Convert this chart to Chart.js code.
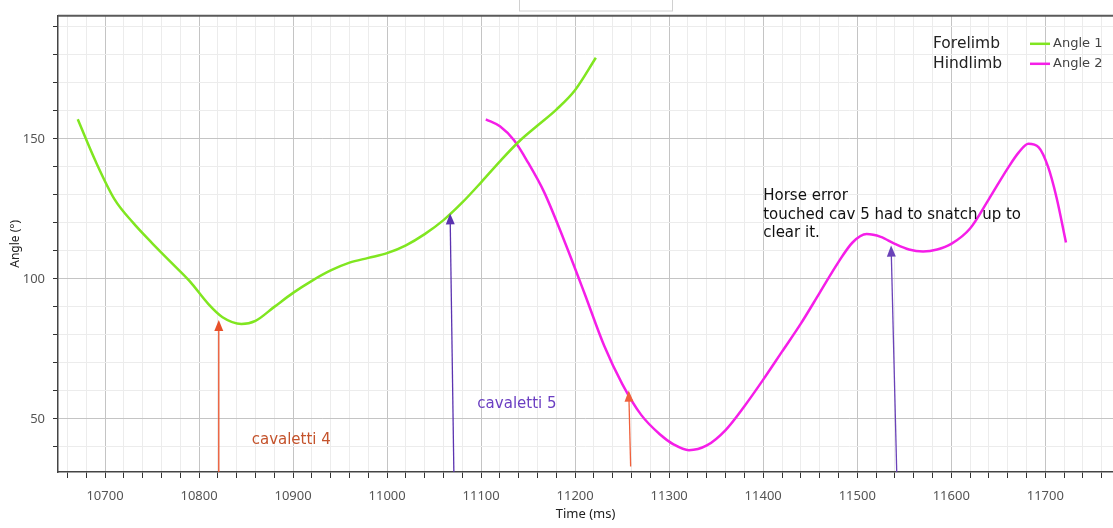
<!DOCTYPE html>
<html>
<head>
  <script src="https://cdn.jsdelivr.net/npm/chart.js"></script>
  <style>
    body { margin: 0; background: #fff; }
    #wrap { width: 1113px; height: 528px; }
  </style>
</head>
<body>
  <div id="wrap"><canvas id="angleChart"></canvas></div>

  <script>
    // Forelimb angle trace (Angle 1)
    var angle1Time  = [10671, 10690, 10710, 10730, 10750, 10770, 10790, 10810, 10825, 10845, 10860, 10880, 10900, 10920, 10940, 10960, 10980, 11000, 11020, 11040, 11060, 11080, 11100, 11120, 11140, 11160, 11180, 11200, 11222];
    var angle1Value = [157, 142, 128.5, 120, 112.8, 106, 99.2, 91, 86.3, 83.9, 85, 90, 95, 99.3, 103, 105.8, 107.5, 109.2, 112, 116, 121, 127.3, 134.5, 142, 149, 154.8, 160.5, 167.5, 179];

    // Hindlimb angle trace (Angle 2)
    var angle2Time  = [11105, 11120, 11135, 11150, 11167, 11188, 11210, 11231, 11250, 11270, 11290, 11305, 11321, 11340, 11360, 11380, 11400, 11420, 11440, 11460, 11480, 11495, 11510, 11525, 11540, 11555, 11570, 11585, 11600, 11620, 11640, 11660, 11672, 11682, 11693, 11703, 11712, 11722];
    var angle2Value = [157, 154.5, 149.5, 141.5, 131, 114, 94.8, 76, 62.5, 51.5, 44.5, 40.8, 38.8, 40.5, 46, 54.5, 64, 74, 84, 95, 106, 113, 116, 115, 112.5, 110.5, 109.8, 110.5, 112.5, 118, 128.5, 139.5, 145.3, 148.3, 147, 140, 129, 113];

    // Event arrows: base time, tip time, base angle, tip angle
    var arrowBaseTime  = [10821, 11071, 11259, 11542];
    var arrowTipTime   = [10821, 11067, 11257, 11536];
    var arrowBaseAngle = [31, 31, 33, 31];
    var arrowTipAngle  = [85.3, 123.4, 60.1, 111.9];
    var arrowColors    = ['#e8502a', '#5b33b0', '#f0603c', '#6a42b8'];

    // Text notes placed at (time, angle)
    var noteText  = ['cavaletti 4', 'cavaletti 5', 'Horse error', 'touched cav 5 had to snatch up to', 'clear it.'];
    var noteTime  = [10856, 11096, 11400, 11400, 11400];
    var noteAngle = [42.3, 55.2, 129.7, 122.7, 116.4];
    var noteColor = ['#c4532c', '#6b3fc2', '#111', '#111', '#111'];

    var limbNames = ['Forelimb', 'Hindlimb'];
    var seriesNames = ['Angle 1', 'Angle 2'];
    var seriesColors = ['#80e620', '#f51ee8'];

    function toPoints(t, v) {
      return t.map(function (x, i) { return { x: x, y: v[i] }; });
    }

    // arrows, notes, legend and the top frame
    var overlay = {
      id: 'overlay',
      afterDatasetsDraw: function (chart) {
        var ctx = chart.ctx, xs = chart.scales.x, ys = chart.scales.y, area = chart.chartArea;
        ctx.save();

        for (var i = 0; i < arrowBaseTime.length; i++) {
          var x0 = xs.getPixelForValue(arrowBaseTime[i]), y0 = ys.getPixelForValue(arrowBaseAngle[i]);
          var x1 = xs.getPixelForValue(arrowTipTime[i]), y1 = ys.getPixelForValue(arrowTipAngle[i]);
          var ang = Math.atan2(y1 - y0, x1 - x0);
          ctx.strokeStyle = arrowColors[i];
          ctx.fillStyle = arrowColors[i];
          ctx.lineWidth = 1.3;
          ctx.beginPath();
          ctx.moveTo(x0, y0);
          ctx.lineTo(x1 - 9 * Math.cos(ang), y1 - 9 * Math.sin(ang));
          ctx.stroke();
          ctx.beginPath();
          ctx.moveTo(x1, y1);
          ctx.lineTo(x1 - 11 * Math.cos(ang) + 4.5 * Math.sin(ang), y1 - 11 * Math.sin(ang) - 4.5 * Math.cos(ang));
          ctx.lineTo(x1 - 11 * Math.cos(ang) - 4.5 * Math.sin(ang), y1 - 11 * Math.sin(ang) + 4.5 * Math.cos(ang));
          ctx.closePath();
          ctx.fill();
        }

        ctx.font = '15px "DejaVu Sans"';
        ctx.textBaseline = 'middle';
        ctx.textAlign = 'left';
        for (var j = 0; j < noteText.length; j++) {
          ctx.fillStyle = noteColor[j];
          ctx.fillText(noteText[j], xs.getPixelForValue(noteTime[j]), ys.getPixelForValue(noteAngle[j]));
        }

        // legend in the top right corner
        var lx = area.right - 180, ly = area.top + 28;
        for (var k = 0; k < seriesNames.length; k++) {
          var yy = ly + k * 20;
          ctx.fillStyle = '#222';
          ctx.font = '15.5px "DejaVu Sans"';
          ctx.fillText(limbNames[k], lx, yy);
          ctx.strokeStyle = seriesColors[k];
          ctx.lineWidth = 2.5;
          ctx.beginPath();
          ctx.moveTo(lx + 97, yy);
          ctx.lineTo(lx + 117, yy);
          ctx.stroke();
          ctx.fillStyle = '#444';
          ctx.font = '13px "DejaVu Sans"';
          ctx.fillText(seriesNames[k], lx + 120, yy);
        }

        // top frame line and the blank tab over it
        ctx.strokeStyle = '#5a5a5a';
        ctx.lineWidth = 2;
        ctx.beginPath();
        ctx.moveTo(area.left, area.top);
        ctx.lineTo(area.right, area.top);
        ctx.stroke();
        ctx.fillStyle = '#fff';
        ctx.fillRect(519, 0, 153, 11);
        ctx.strokeStyle = '#d0d0d0';
        ctx.lineWidth = 1;
        ctx.strokeRect(519.5, -1, 153, 12);
        ctx.restore();
      }
    };

    function gridColor(ctx, major) {
      var v = ctx.tick ? ctx.tick.value : 0;
      if (Math.abs(v % major) < 1e-6) return '#c4c4c4';
      return '#ececec';
    }

    var config = {
      type: 'line',
      data: {
        datasets: [{
          label: seriesNames[0],
          data: toPoints(angle1Time, angle1Value),
          borderColor: seriesColors[0],
          borderWidth: 2.5,
          pointRadius: 0,
          cubicInterpolationMode: 'monotone',
          fill: false
        }, {
          label: seriesNames[1],
          data: toPoints(angle2Time, angle2Value),
          borderColor: seriesColors[1],
          borderWidth: 2.5,
          pointRadius: 0,
          cubicInterpolationMode: 'monotone',
          fill: false
        }]
      },
      options: {
        responsive: true,
        maintainAspectRatio: false,
        animation: false,
        layout: { padding: { top: 7, right: 0, left: 0, bottom: 0 } },
        plugins: { legend: { display: false }, tooltip: { enabled: false } },
        scales: {
          x: {
            type: 'linear',
            min: 10650,
            max: 11772,
            afterFit: function (s) { s.height = 56; s.paddingRight = 0; s.paddingLeft = 0; },
            border: { color: '#444', width: 1.5 },
            grid: {
              color: function (c) { return gridColor(c, 100); },
              tickColor: '#333',
              tickLength: 6
            },
            ticks: {
              stepSize: 20,
              autoSkip: false,
              maxRotation: 0,
              includeBounds: false,
              padding: 10,
              color: '#555',
              font: { family: 'Noto Sans', size: 13 },
              callback: function (v) { return v % 100 === 0 ? String(v) : ''; }
            },
            title: {
              display: true,
              text: 'Time (ms)',
              color: '#222',
              font: { family: 'Noto Sans', size: 13 },
              padding: { top: 0, bottom: 6 }
            }
          },
          y: {
            min: 31,
            max: 194,
            afterFit: function (s) { s.width = 58; },
            border: { color: '#444', width: 1.5 },
            grid: {
              color: function (c) { return gridColor(c, 50); },
              tickColor: '#333',
              tickLength: 5
            },
            ticks: {
              stepSize: 10,
              autoSkip: false,
              includeBounds: false,
              padding: 8,
              color: '#555',
              font: { family: 'Noto Sans', size: 13 },
              callback: function (v) { return v % 50 === 0 ? String(v) : ''; }
            },
            title: {
              display: true,
              text: 'Angle (°)',
              color: '#222',
              font: { family: 'Noto Sans', size: 12 },
              padding: { top: 8, bottom: 4 }
            }
          }
        }
      },
      plugins: [overlay]
    };

    new Chart(document.getElementById('angleChart').getContext('2d'), config);
  </script>
</body>
</html>
